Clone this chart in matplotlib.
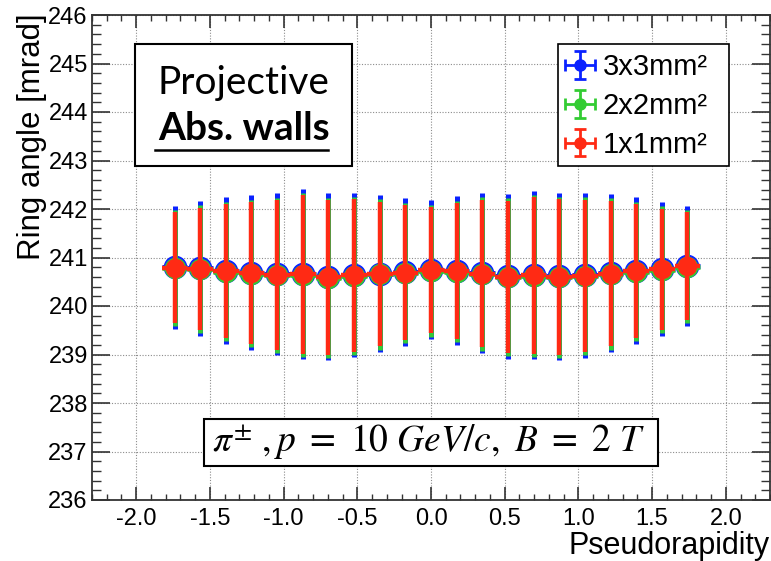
import matplotlib
matplotlib.use('Agg')
import matplotlib.pyplot as plt
import numpy as np
from matplotlib.patches import Rectangle
from matplotlib.legend_handler import HandlerErrorbar
from matplotlib.ticker import MultipleLocator

plt.rcParams['font.family'] = ['Liberation Sans', 'DejaVu Sans']
plt.rcParams['mathtext.fontset'] = 'stix'

# pseudorapidity bin centres and half width
eta = [-1.740, -1.566, -1.392, -1.218, -1.044, -0.870, -0.696, -0.522, -0.348, -0.174, 0.0,
       0.174, 0.348, 0.522, 0.696, 0.870, 1.044, 1.218, 1.392, 1.566, 1.740]
half_bin = 0.087

# 3x3 mm^2 pixels
blue_y = [240.80, 240.78, 240.73, 240.69, 240.65, 240.66, 240.60, 240.64, 240.67, 240.70, 240.75,
          240.73, 240.68, 240.61, 240.64, 240.61, 240.63, 240.68, 240.73, 240.77, 240.83]
blue_err = [1.27, 1.39, 1.51, 1.59, 1.67, 1.76, 1.72, 1.70, 1.62, 1.52, 1.43,
            1.53, 1.65, 1.70, 1.74, 1.73, 1.70, 1.63, 1.51, 1.38, 1.24]
# 2x2 mm^2 pixels
green_y = [240.78, 240.76, 240.71, 240.67, 240.63, 240.64, 240.58, 240.62, 240.65, 240.68, 240.73,
           240.71, 240.66, 240.59, 240.62, 240.59, 240.61, 240.66, 240.71, 240.75, 240.81]
green_err = [1.20, 1.32, 1.44, 1.52, 1.60, 1.69, 1.65, 1.63, 1.55, 1.45, 1.36,
             1.46, 1.58, 1.63, 1.67, 1.66, 1.63, 1.56, 1.44, 1.31, 1.17]
# 1x1 mm^2 pixels
red_y = [240.79, 240.77, 240.72, 240.68, 240.64, 240.65, 240.59, 240.63, 240.66, 240.69, 240.74,
         240.72, 240.67, 240.60, 240.63, 240.60, 240.62, 240.67, 240.72, 240.76, 240.82]
red_err = [1.14, 1.26, 1.38, 1.46, 1.54, 1.63, 1.59, 1.57, 1.49, 1.39, 1.30,
           1.40, 1.52, 1.57, 1.61, 1.60, 1.57, 1.50, 1.38, 1.25, 1.11]

labels = ['3x3mm\u00b2', '2x2mm\u00b2', '1x1mm\u00b2']
colors = ['#0a22ff', '#33cc33', '#ff2a14']

fig = plt.figure(figsize=(7.71, 5.61), dpi=100)
ax = fig.add_axes([92 / 771, 61 / 561, 678 / 771, 485 / 561])

series = [(blue_y, blue_err, 16, 3.6), (green_y, green_err, 14.5, 3.4), (red_y, red_err, 13, 3.2)]
for i, (yv, ye, ms, lw) in enumerate(series):
    ax.errorbar(eta, yv, xerr=half_bin, yerr=ye, fmt='o', color=colors[i], ms=ms,
                elinewidth=lw, capsize=0, zorder=3 + i)

ax.set_xlim(-2.3, 2.3)
ax.set_ylim(236, 246)
ax.xaxis.set_major_locator(MultipleLocator(0.5))
ax.xaxis.set_minor_locator(MultipleLocator(0.1))
ax.yaxis.set_major_locator(MultipleLocator(1))
ax.yaxis.set_minor_locator(MultipleLocator(0.2))
ax.xaxis.set_major_formatter(matplotlib.ticker.FormatStrFormatter('%.1f'))
ax.tick_params(which='both', direction='in', top=True, right=True, labelsize=17, color='#333333')
ax.tick_params(axis='y', which='major', length=13, width=1.2, pad=3)
ax.tick_params(axis='y', which='minor', length=6.5, width=1)
ax.tick_params(axis='x', which='major', length=9.5, width=1.2, pad=6)
ax.tick_params(axis='x', which='minor', length=4.5, width=1)
ax.grid(True, which='major', linestyle=(0, (1, 1.5)), color='#8c8c8c', lw=0.8)
for s in ax.spines.values():
    s.set_color('#333333')
    s.set_linewidth(1.3)

ax.set_ylabel('Ring angle [mrad]', fontsize=22.5, loc='top')
ax.yaxis.set_label_coords(-0.066, 1.004)
ax.set_xlabel('Pseudorapidity', fontsize=22, loc='right')
ax.xaxis.set_label_coords(1.0, -0.064)

# "Projective / Abs. walls" box
ax.add_patch(Rectangle((0.0634, 0.6893), 0.3201, 0.2509, transform=ax.transAxes,
                       facecolor='white', edgecolor='black', lw=1.5, zorder=6))
ax.text(0.2235, 0.860, 'Projective', transform=ax.transAxes, ha='center', va='center',
        fontsize=28, family='Lato', zorder=7)
ax.text(0.2235, 0.765, 'Abs. walls', transform=ax.transAxes, ha='center', va='center',
        fontsize=28, family='Lato', fontweight='bold', zorder=7)
ax.plot([0.0929, 0.3481], [0.7216, 0.7216], transform=ax.transAxes, color='black',
        lw=1.8, zorder=7, clip_on=False)

# kinematics box
ax.add_patch(Rectangle((0.1652, 0.0701), 0.6696, 0.0969, transform=ax.transAxes,
                       facecolor='white', edgecolor='black', lw=1.5, zorder=6))
ax.text(0.4960, 0.1186, r'$\pi^{\pm}\ , p\ =\ 10\ GeV/c,\ B\ =\ 2\ T$', transform=ax.transAxes,
        ha='center', va='center', fontsize=27, zorder=7)

# legend
ax.add_patch(Rectangle((0.6873, 0.6887), 0.2522, 0.2515, transform=ax.transAxes,
                       facecolor='white', edgecolor='black', lw=1.2, zorder=6))
handles = []
for c in colors:
    h = ax.errorbar([np.nan], [np.nan], xerr=[1], yerr=[1], fmt='o', color=c, ms=8,
                    elinewidth=2, capsize=4, capthick=2)
    handles.append(h)
leg = ax.legend(handles, labels, loc='upper left', bbox_to_anchor=(0.696, 0.921),
                frameon=False, fontsize=21, borderpad=0, borderaxespad=0,
                handlelength=1.1, handletextpad=0.22, labelspacing=0.37,
                handler_map={type(handles[0]): HandlerErrorbar(xerr_size=0.52, yerr_size=0.47)})
leg.set_zorder(8)

fig.savefig('out.png', dpi=100)
